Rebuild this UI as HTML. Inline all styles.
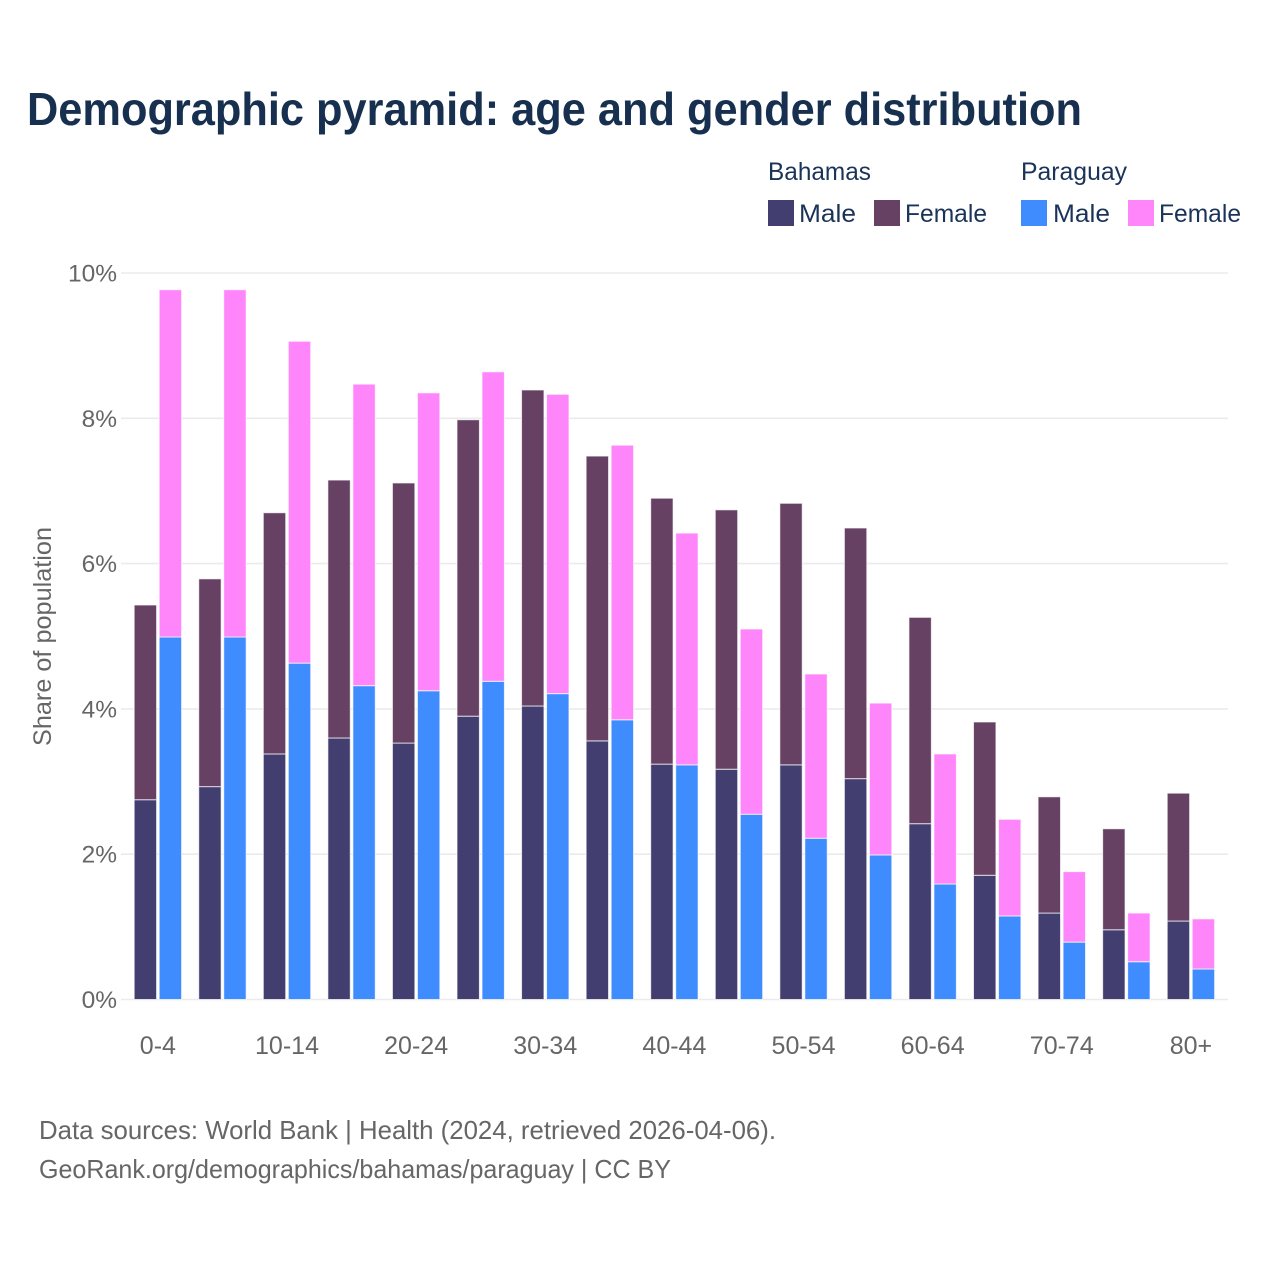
<!DOCTYPE html>
<html lang="en">
<head>
<meta charset="utf-8">
<title>Demographic pyramid</title>
<style>
html,body{margin:0;padding:0;background:#fff;width:1280px;height:1280px;overflow:hidden}
svg{display:block}
text{font-family:"Liberation Sans",sans-serif}
.leg{font-size:25px;fill:#1a3358}
.foot{font-size:26px;fill:#666}
</style>
</head>
<body>
<svg id="chart" width="1280" height="1280" viewBox="0 0 1280 1280" xmlns="http://www.w3.org/2000/svg">
  <text x="27" y="125" font-size="46" font-weight="700" fill="#17304f" textLength="1055" lengthAdjust="spacingAndGlyphs">Demographic pyramid: age and gender distribution</text>
  <g>
    <text class="leg" x="768" y="180" textLength="103" lengthAdjust="spacingAndGlyphs">Bahamas</text>
    <text class="leg" x="1021" y="180" textLength="106" lengthAdjust="spacingAndGlyphs">Paraguay</text>
    <rect x="768" y="200" width="26" height="26" fill="#423f70"/>
    <text class="leg" x="799" y="222" textLength="57" lengthAdjust="spacingAndGlyphs">Male</text>
    <rect x="874" y="200" width="26" height="26" fill="#664163"/>
    <text class="leg" x="905" y="222" textLength="82" lengthAdjust="spacingAndGlyphs">Female</text>
    <rect x="1021" y="200" width="26" height="26" fill="#3f8cff"/>
    <text class="leg" x="1053" y="222" textLength="57" lengthAdjust="spacingAndGlyphs">Male</text>
    <rect x="1128" y="200" width="26" height="26" fill="#ff85fb"/>
    <text class="leg" x="1159" y="222" textLength="82" lengthAdjust="spacingAndGlyphs">Female</text>
  </g>
  <g id="grid"></g>
  <g id="bars"></g>
  <g id="yticks"></g>
  <g id="xticks"></g>
  <text transform="translate(51,636.5) rotate(-90)" text-anchor="middle" font-size="25" fill="#666" textLength="219" lengthAdjust="spacingAndGlyphs">Share of population</text>
  <text class="foot" x="39" y="1139" textLength="737" lengthAdjust="spacingAndGlyphs">Data sources: World Bank | Health (2024, retrieved 2026-04-06).</text>
  <text class="foot" x="39" y="1178" textLength="632" lengthAdjust="spacingAndGlyphs">GeoRank.org/demographics/bahamas/paraguay | CC BY</text>
</svg>
<script>
const categories = ["0-4","5-9","10-14","15-19","20-24","25-29","30-34","35-39","40-44","45-49","50-54","55-59","60-64","65-69","70-74","75-79","80+"];
const xTickLabels = ["0-4","","10-14","","20-24","","30-34","","40-44","","50-54","","60-64","","70-74","","80+"];
const yTicks = [0,2,4,6,8,10];
const bahamasMale = [2.75,2.93,3.38,3.60,3.53,3.90,4.04,3.56,3.24,3.17,3.23,3.04,2.42,1.71,1.19,0.96,1.08];
const bahamasFemale = [2.68,2.86,3.32,3.55,3.58,4.08,4.35,3.92,3.66,3.57,3.60,3.45,2.84,2.11,1.60,1.39,1.76];
const paraguayMale = [4.99,4.99,4.63,4.32,4.25,4.38,4.21,3.85,3.23,2.55,2.22,1.99,1.59,1.15,0.79,0.52,0.42];
const paraguayFemale = [4.78,4.78,4.43,4.15,4.10,4.26,4.12,3.78,3.19,2.55,2.26,2.09,1.79,1.33,0.97,0.67,0.69];

const NS = "http://www.w3.org/2000/svg";
const plotLeft = 121, plotRight = 1228, plotBottom = 999.5, plotTop = 273;
const bandLeft = 125.6, bandRight = 1223.2;
const yScale = v => plotBottom - (v / 10) * (plotBottom - plotTop);
const step = (bandRight - bandLeft) / categories.length;
const xCenter = i => bandLeft + step * (i + 0.5);
const barWidth = 22.4, barGap = 1.3;

function mk(tag, attrs, parent) {
  const el = document.createElementNS(NS, tag);
  for (const k in attrs) el.setAttribute(k, attrs[k]);
  parent.appendChild(el);
  return el;
}
const gridG = document.getElementById('grid');
const barsG = document.getElementById('bars');
const yG = document.getElementById('yticks');
const xG = document.getElementById('xticks');

yTicks.forEach(t => {
  const line = mk('line', {x1: plotLeft, x2: plotRight, y1: yScale(t), y2: yScale(t), stroke: '#ebebeb', 'stroke-width': 1.6}, gridG);
  
  
  const label = mk('text', {x: 117, y: yScale(t) + 8.5, 'text-anchor': 'end', 'font-size': 24.5, fill: '#666'}, yG);
  label.textContent = t + '%';
  
  
});

function segment(x, v0, v1, fill, name) {
  const yTop = yScale(v0 + v1), yBot = yScale(v0);
  const r = mk('rect', {x: x, y: yTop, width: barWidth, height: yBot - yTop, fill: fill, stroke: '#ffffff', 'stroke-opacity': 0.7, 'stroke-width': 1}, barsG);
  
  
}

categories.forEach((c, i) => {
  const cx = xCenter(i);
  const xB = cx - barGap - barWidth, xP = cx + barGap;
  segment(xB, 0, bahamasMale[i], '#423f70', 'bar-bahamas-male-' + c);
  segment(xB, bahamasMale[i], bahamasFemale[i], '#664163', 'bar-bahamas-female-' + c);
  segment(xP, 0, paraguayMale[i], '#3f8cff', 'bar-paraguay-male-' + c);
  segment(xP, paraguayMale[i], paraguayFemale[i], '#ff85fb', 'bar-paraguay-female-' + c);
  if (xTickLabels[i]) {
    const lab = mk('text', {x: cx, y: 1054, 'text-anchor': 'middle', 'font-size': 25, fill: '#666'}, xG);
    lab.textContent = xTickLabels[i];
    
    
  }
});
</script>
</body>
</html>
